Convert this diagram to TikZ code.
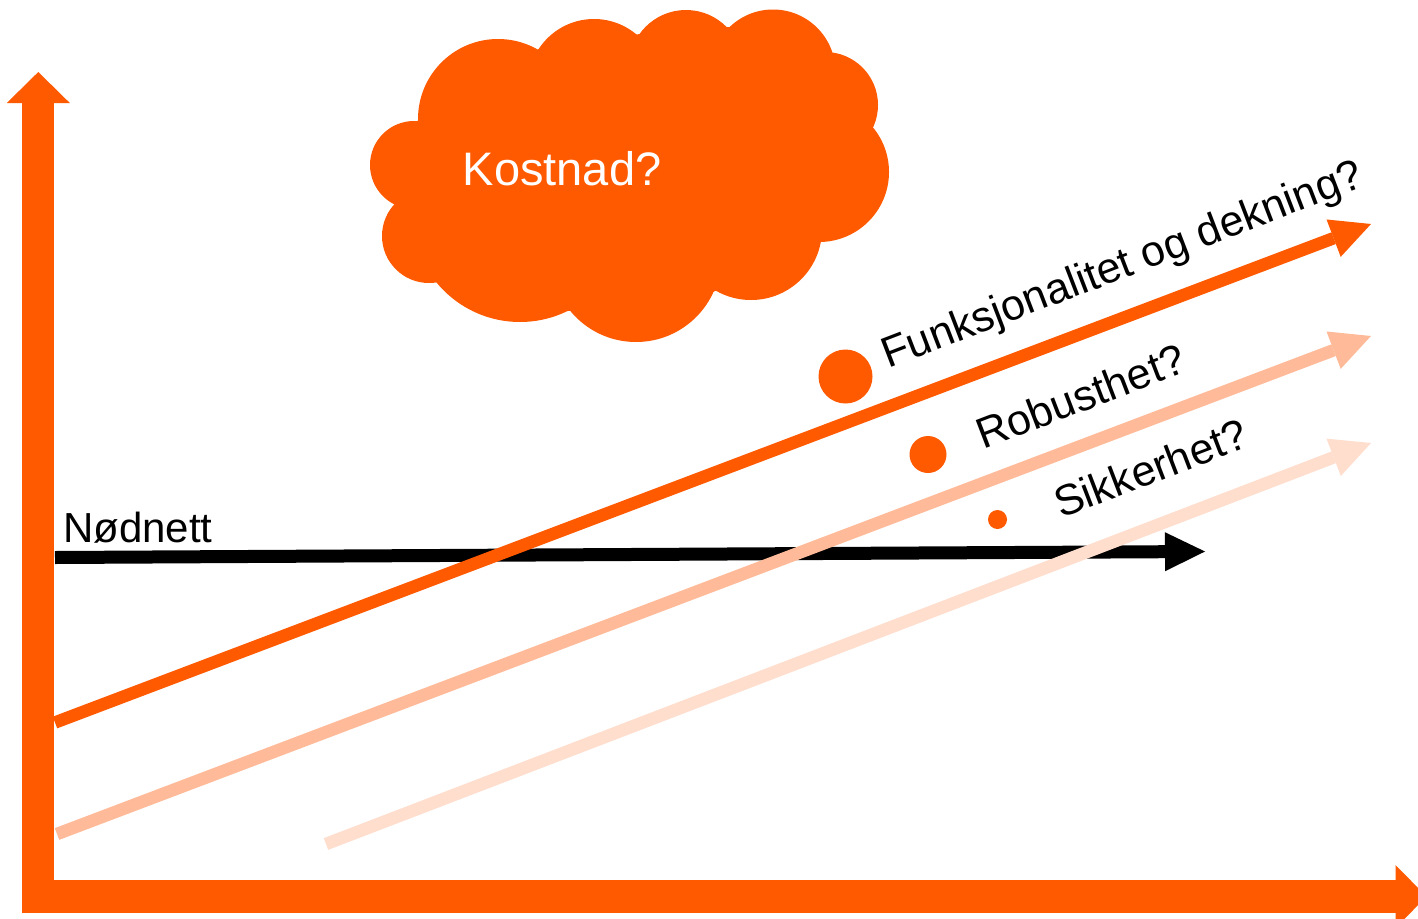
\documentclass[tikz,border=0pt]{standalone}
\usepackage{fontspec}
\setmainfont{Liberation Sans}
\usetikzlibrary{arrows.meta}
\definecolor{orng}{RGB}{255,90,0}
\definecolor{orngmid}{RGB}{255,187,153}
\definecolor{orngpale}{RGB}{255,222,206}
\begin{document}
\begin{tikzpicture}[x=1pt,y=-1pt,
  axisarrow/.style={orng, line width=32pt, line cap=butt,
    -{Triangle[length=31pt,width=63pt,line width=0pt]}},
  trendarrow/.style={line width=12.5pt, line cap=butt,
    -{Triangle[length=40pt,width=40pt,line width=0pt]}},
  lbl/.style={inner sep=0pt, text=black, font=\fontsize{43}{51}\selectfont},
  dot/.style={circle, fill=orng, inner sep=0pt, draw=none}]
\useasboundingbox (0,0) rectangle (1418,918);
\clip (0,0) rectangle (1418,918);
\fill[white] (0,0) rectangle (1418,918);

% cloud
\begin{scope}[fill=orng]
\fill (498,119) circle[radius=80pt];
\fill (594,85) circle[radius=66pt];
\fill (686,67) circle[radius=57pt];
\fill (773,72) circle[radius=62.5pt];
\fill (825,105) circle[radius=53pt];
\fill (819,172) circle[radius=70pt];
\fill (751,229) circle[radius=71pt];
\fill (636,257) circle[radius=85pt];
\fill (520,214) circle[radius=108pt];
\fill (429,236) circle[radius=47pt];
\fill (414,165) circle[radius=44pt];
\fill (539,49) -- (640,34) -- (729,27) -- (830,52) -- (873,127) -- (820,240)
  -- (713,292) -- (568,311) -- (440,281) -- (396,204) -- (418,120) -- cycle;
\end{scope}
\node[inner sep=0pt, text=white, anchor=base, font=\fontsize{47}{56}\selectfont]
  (kostnad) at (562,185) {Kostnad?};

% coordinates
\coordinate (yb) at (38.3,913);
\coordinate (yt) at (38.3,72);
\coordinate (xl) at (22,896.5);
\coordinate (xr) at (1426.5,896.5);
\coordinate (ns) at (55,557.5);
\coordinate (ne) at (1205,551.5);
\coordinate (fs) at (55,722.5);
\coordinate (fe) at (1371,224);
\coordinate (rs) at (57,834);
\coordinate (re) at (1371,336);
\coordinate (ss) at (326,844);
\coordinate (se) at (1371,443);

% axes
\draw[axisarrow] (yb) -- (yt);
\draw[axisarrow, line width=33pt] (xl) -- (xr);

% Nodnett
\draw[black, line width=13pt, line cap=butt,
  -{Triangle[length=40pt,width=39pt,line width=0pt]}] (ns) -- (ne);
\node[lbl, anchor=base west, font=\fontsize{42}{50}\selectfont] (nodnett) at (63,542) {Nødnett};

% trend arrows
\draw[trendarrow, orngpale] (ss) -- (se);
\draw[trendarrow, orngmid] (rs) -- (re);
\draw[trendarrow, orng] (fs) -- (fe);

% dots
\node[dot, minimum size=54pt] (d1) at (845.5,376.5) {};
\node[dot, minimum size=37pt] (d2) at (928,454.5) {};
\node[dot, minimum size=19pt] (d3) at (997.5,519.5) {};

% labels
\node[lbl, anchor=base west, rotate=21] (funk) at (888,369) {Funksjonalitet og dekning?};
\node[lbl, anchor=base west, rotate=21] (rob) at (983,450) {Robusthet?};
\node[lbl, anchor=base west, rotate=21] (sik) at (1061,519) {Sikkerhet?};
\end{tikzpicture}
\end{document}
